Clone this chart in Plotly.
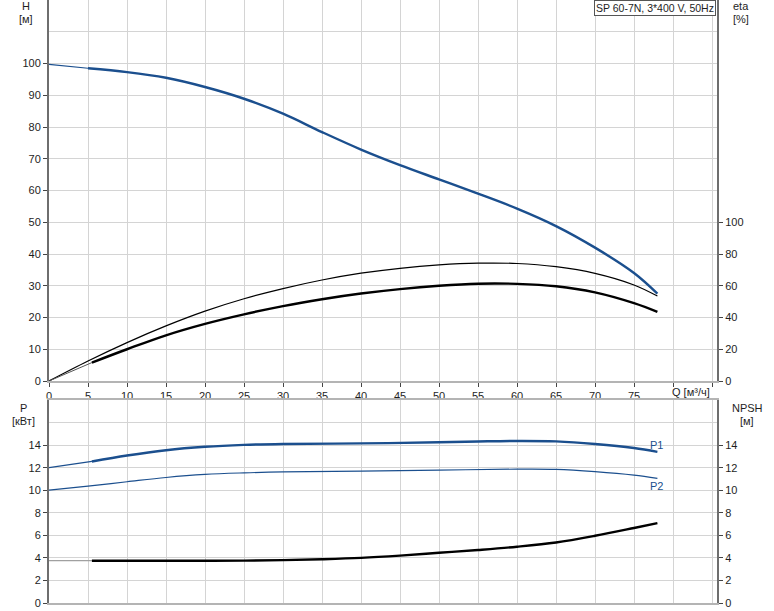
import plotly.graph_objects as go

# ---------------- data ----------------
q_h = [0, 5, 10, 15, 20, 25, 30, 35, 40, 45, 50, 55, 60, 65, 70, 75, 78]
h_vals = [99.7, 98.5, 97.3, 95.5, 92.6, 88.9, 84.2, 78.4, 72.9, 68.0, 63.5, 59.0, 54.3, 48.8, 42.0, 34.0, 27.5]

q_eta_pump = [0, 5, 10, 15, 20, 25, 30, 35, 40, 45, 50, 55, 60, 65, 70, 75, 78]
eta_pump = [0, 12.6, 24.2, 34.7, 44.0, 51.8, 58.2, 63.6, 67.9, 71.0, 73.1, 74.2, 74.0, 72.0, 67.8, 60.5, 53.5]

q_eta_tot = [5.5, 10, 15, 20, 25, 30, 35, 40, 45, 50, 55, 60, 65, 70, 75, 78]
eta_tot = [11.6, 20.0, 28.8, 36.0, 42.0, 47.2, 51.5, 55.1, 57.9, 60.0, 61.3, 61.2, 59.7, 55.8, 49.0, 43.5]

q_p1 = [5.5, 10, 15, 20, 25, 30, 40, 50, 55, 60, 65, 70, 75, 78]
p1_vals = [12.55, 13.08, 13.55, 13.85, 14.02, 14.1, 14.15, 14.25, 14.32, 14.37, 14.33, 14.1, 13.74, 13.4]
p1_start = 12.0

q_p2 = [0, 5, 10, 15, 20, 25, 30, 40, 50, 60, 65, 70, 75, 78]
p2_vals = [10.0, 10.36, 10.75, 11.13, 11.4, 11.54, 11.63, 11.7, 11.78, 11.87, 11.85, 11.65, 11.34, 11.05]

q_npsh = [5.5, 10, 15, 20, 25, 30, 35, 40, 45, 50, 55, 60, 65, 70, 75, 78]
npsh_vals = [3.75, 3.75, 3.75, 3.75, 3.76, 3.8, 3.88, 4.0, 4.2, 4.45, 4.7, 4.99, 5.37, 5.96, 6.65, 7.08]

x_ticks = list(range(0, 90, 5))
x_labels = [str(v) if v <= 75 else "" for v in x_ticks]
h_ticks = list(range(0, 110, 10))
eta_ticks = list(range(0, 120, 20))
p_ticks = list(range(0, 16, 2))

title_text = "SP 60-7N, 3*400 V, 50Hz"

# ---------------- styling ----------------
BLUE = "#1B4F8E"
BLACK = "#000000"
GRID = "#d4d4d4"
AXIS_DARK = "#6e6e6e"
AXIS_LIGHT = "#b4b4b4"
TXT = "#1e1e1e"
FONT = "Liberation Sans, Arial, sans-serif"

W, H = 774, 611
ML, MR, MT, MB = 49, 57, 0, 8
PW, PH = W - ML - MR, H - MT - MB


def px_x(px):
    return (px - ML) / PW


def px_y(py):
    return (H - MB - py) / PH


top_dom = [px_y(381), 1.0]
bot_dom = [0.0, px_y(400)]

fig = go.Figure()

# Top panel: H curve
fig.add_trace(go.Scatter(x=q_h[:2], y=h_vals[:2], mode="lines",
                         line=dict(color=BLUE, width=1.2), xaxis="x", yaxis="y"))
fig.add_trace(go.Scatter(x=q_h[1:], y=h_vals[1:], mode="lines", line_shape="spline",
                         line=dict(color=BLUE, width=2.4), xaxis="x", yaxis="y"))
# eta curves
fig.add_trace(go.Scatter(x=q_eta_pump, y=eta_pump, mode="lines", line_shape="spline",
                         line=dict(color=BLACK, width=1.2), xaxis="x", yaxis="y2"))
fig.add_trace(go.Scatter(x=[0, q_eta_tot[0]], y=[0, eta_tot[0]], mode="lines",
                         line=dict(color="#555555", width=1), xaxis="x", yaxis="y2"))
fig.add_trace(go.Scatter(x=q_eta_tot, y=eta_tot, mode="lines", line_shape="spline",
                         line=dict(color=BLACK, width=2.4), xaxis="x", yaxis="y2"))

# Bottom panel: P1, P2
fig.add_trace(go.Scatter(x=[0, q_p1[0]], y=[p1_start, p1_vals[0]], mode="lines",
                         line=dict(color=BLUE, width=1.2), xaxis="x2", yaxis="y3"))
fig.add_trace(go.Scatter(x=q_p1, y=p1_vals, mode="lines", line_shape="spline",
                         line=dict(color=BLUE, width=2.4), xaxis="x2", yaxis="y3"))
fig.add_trace(go.Scatter(x=q_p2, y=p2_vals, mode="lines", line_shape="spline",
                         line=dict(color=BLUE, width=1.2), xaxis="x2", yaxis="y3"))
# NPSH
fig.add_trace(go.Scatter(x=[0, q_npsh[0]], y=[npsh_vals[0], npsh_vals[0]], mode="lines",
                         line=dict(color="#a0a0a0", width=1.2), xaxis="x2", yaxis="y4"))
fig.add_trace(go.Scatter(x=q_npsh, y=npsh_vals, mode="lines", line_shape="spline",
                         line=dict(color=BLACK, width=2.4), xaxis="x2", yaxis="y4"))

tickfont = dict(family=FONT, size=11, color=TXT)
xr = [0, (717 - ML) / 7.8]

fig.update_layout(
    width=W, height=H,
    margin=dict(l=ML, r=MR, t=MT, b=MB, autoexpand=False),
    paper_bgcolor="white", plot_bgcolor="white",
    showlegend=False,
    hovermode=False,
    font=dict(family=FONT, size=11, color=TXT),
    xaxis=dict(domain=[0, 1], anchor="y", range=xr, tickvals=x_ticks, ticktext=x_labels,
               automargin=False,
               showgrid=True, gridcolor=GRID, gridwidth=1, zeroline=False,
               showline=True, linecolor=AXIS_LIGHT, linewidth=2, mirror=True,
               ticks="outside", ticklen=4, tickcolor="#444444", tickfont=tickfont),
    yaxis=dict(domain=top_dom, anchor="x", range=[0, 120], tickvals=h_ticks, automargin=False,
               showgrid=True, gridcolor=GRID, zeroline=False,
               minor=dict(tickvals=[110, 120], showgrid=True, gridcolor=GRID, ticks=""),
               showline=True, linecolor=AXIS_DARK, linewidth=2,
               ticks="outside", ticklen=4, tickcolor="#444444", tickfont=tickfont),
    yaxis2=dict(overlaying="y", side="right", anchor="x", range=[0, 240], tickvals=eta_ticks,
                automargin=False,
                showgrid=False, zeroline=False, showline=True, linecolor=AXIS_DARK, linewidth=2,
                ticks="outside", ticklen=4, tickcolor="#444444", tickfont=tickfont),
    xaxis2=dict(domain=[0, 1], anchor="y3", range=xr, tickvals=x_ticks, showticklabels=False,
                automargin=False,
                showgrid=True, gridcolor=GRID, zeroline=False,
                showline=True, linecolor=AXIS_LIGHT, linewidth=2, mirror=True, ticks=""),
    yaxis3=dict(domain=bot_dom, anchor="x2", range=[0, 18], tickvals=p_ticks, automargin=False,
                showgrid=True, gridcolor=GRID, zeroline=False,
                minor=dict(tickvals=[16, 18], showgrid=True, gridcolor=GRID, ticks=""),
                showline=True, linecolor=AXIS_DARK, linewidth=2,
                ticks="outside", ticklen=4, tickcolor="#444444", tickfont=tickfont),
    yaxis4=dict(overlaying="y3", side="right", anchor="x2", range=[0, 18], tickvals=p_ticks,
                automargin=False,
                showgrid=False, zeroline=False, showline=True, linecolor=AXIS_DARK, linewidth=2,
                ticks="outside", ticklen=4, tickcolor="#444444", tickfont=tickfont),
)


def label(text, px, py, xanchor="center", yanchor="middle", color=TXT):
    fig.add_annotation(text=text, xref="paper", yref="paper", x=px_x(px), y=px_y(py),
                       xanchor=xanchor, yanchor=yanchor, showarrow=False,
                       font=dict(family=FONT, size=11, color=color))


label("H", 26, 6)
label("[м]", 26, 19)
label("eta", 741, 6)
label("[%]", 741, 19)
label("P", 23, 408)
label("[кВт]", 23, 421)
label("NPSH", 747, 408)
label("[м]", 747, 421)
label("Q [м³/ч]", 712, 392, xanchor="right")
label("P1", 656, 445, color=BLUE)
label("P2", 656, 486, color=BLUE)

fig.add_annotation(text=title_text, xref="paper", yref="paper", x=px_x(716), y=1.0,
                   xanchor="right", yanchor="top", showarrow=False,
                   font=dict(family=FONT, size=10.5, color=TXT),
                   bgcolor="white", bordercolor="#555555", borderwidth=1, borderpad=1)

fig.write_html("out.html",
               config={"displayModeBar": False, "staticPlot": True},
               post_script="document.body.style.margin='0';document.body.style.padding='0';")
